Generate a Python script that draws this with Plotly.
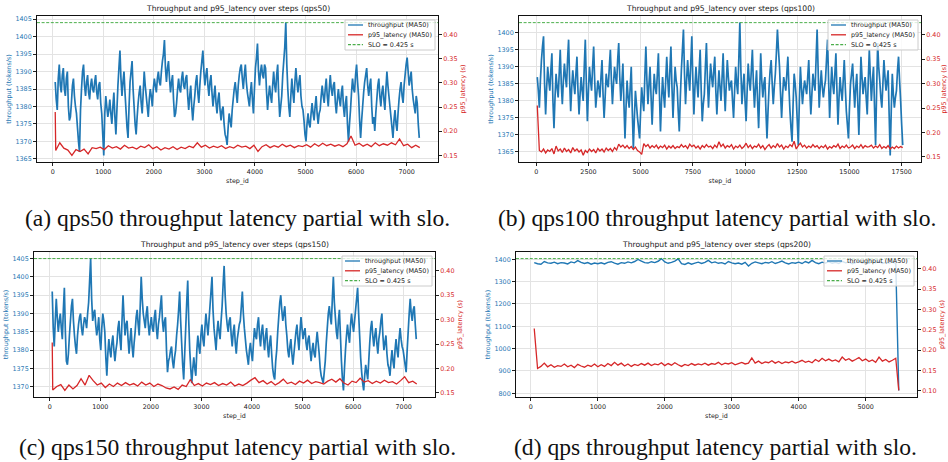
import plotly.graph_objects as go

# ---------------- data ----------------
SLO = 0.425
RUN_NAMES = ["qps50", "qps100", "qps150", "qps200"]
CAPTIONS = [
    "(a) qps50 throughput latency partial with slo.",
    "(b) qps100 throughput latency partial with slo.",
    "(c) qps150 throughput latency partial with slo.",
    "(d) qps throughput latency partial with slo.",
]
SERIES_NAMES = ["throughput (MA50)", "p95_latency (MA50)", f"SLO = {SLO} s"]

# panel (a) qps50
A_TP_STEPS = list(range(50, 7251, 20))
A_TP = [
    1387, 1382, 1379, 1388, 1392, 1386, 1384, 1389, 1391, 1385, 1383, 1388, 1390, 1380, 1376, 1377, 1381, 1386, 1388, 1383,
    1380, 1378, 1374, 1370, 1367, 1379, 1385, 1390, 1392, 1386, 1383, 1387, 1389, 1384, 1382, 1386, 1388, 1385, 1384, 1387,
    1389, 1384, 1382, 1386, 1387, 1381, 1378, 1372, 1366, 1378,
    1383, 1380, 1377, 1379, 1382, 1378, 1375, 1380, 1384, 1377, 1372, 1379, 1386, 1391, 1396, 1388, 1383, 1387, 1390, 1384,
    1379, 1374, 1371, 1380, 1387, 1390, 1393, 1385, 1380, 1375, 1372, 1377, 1381, 1384, 1386, 1381, 1378, 1384, 1390, 1386,
    1383, 1380, 1377, 1382, 1385, 1383, 1380, 1385, 1388, 1386,
    1384, 1388, 1390, 1387, 1386, 1390, 1393, 1395, 1399, 1391, 1387, 1391, 1393, 1388, 1384, 1387, 1389, 1382, 1377, 1378,
    1381, 1385, 1388, 1385, 1384, 1388, 1390, 1386, 1385, 1388, 1389, 1383, 1379, 1383, 1386, 1380, 1376, 1380, 1383, 1387,
    1389, 1384, 1381, 1386, 1390, 1393, 1396, 1390, 1386, 1389,
    1391, 1386, 1383, 1387, 1389, 1384, 1380, 1383, 1386, 1381, 1378, 1382, 1384, 1379, 1376, 1379, 1380, 1375, 1372, 1371,
    1369, 1374, 1378, 1376, 1374, 1379, 1382, 1385, 1387, 1384, 1381, 1386, 1389, 1391, 1392, 1388, 1385, 1389, 1392, 1387,
    1384, 1382, 1380, 1384, 1387, 1382, 1378, 1385, 1391, 1394,
    1398, 1390, 1386, 1390, 1392, 1389, 1388, 1392, 1391, 1384, 1379, 1383, 1386, 1383, 1381, 1386, 1390, 1386, 1384, 1389,
    1392, 1383, 1377, 1380, 1383, 1389, 1393, 1397, 1404, 1392, 1385, 1380, 1377, 1383, 1388, 1384, 1381, 1387, 1391, 1387,
    1384, 1387, 1389, 1383, 1380, 1379, 1376, 1372, 1370, 1375,
    1378, 1375, 1374, 1378, 1381, 1378, 1376, 1380, 1383, 1378, 1375, 1378, 1379, 1383, 1386, 1383, 1381, 1385, 1388, 1383,
    1380, 1385, 1389, 1385, 1383, 1386, 1387, 1381, 1378, 1382, 1385, 1382, 1380, 1384, 1386, 1380, 1377, 1381, 1383, 1375,
    1370, 1375, 1379, 1384, 1388, 1385, 1384, 1389, 1392, 1387,
    1383, 1376, 1371, 1376, 1380, 1384, 1387, 1389, 1391, 1386, 1383, 1386, 1388, 1380, 1375, 1377, 1373, 1378, 1382, 1386,
    1388, 1383, 1380, 1384, 1386, 1382, 1379, 1385, 1390, 1386, 1383, 1380, 1377, 1374, 1371, 1376, 1379, 1375, 1373, 1378,
    1382, 1385, 1387, 1383, 1381, 1386, 1389, 1392, 1394, 1390,
    1386, 1388, 1390, 1385, 1382, 1380, 1378, 1383, 1381, 1375, 1371,
]
A_LAT_STEPS = [50] + list(range(60, 7261, 80))
A_LAT = [
    0.240,
    0.160, 0.176, 0.165, 0.161, 0.150, 0.162, 0.158, 0.163, 0.153, 0.166,
    0.164, 0.167, 0.162, 0.170, 0.165, 0.168, 0.163, 0.171, 0.165, 0.167,
    0.163, 0.169, 0.166, 0.172, 0.164, 0.168, 0.161, 0.166, 0.163, 0.168,
    0.162, 0.167, 0.164, 0.169, 0.166, 0.176, 0.167, 0.171, 0.165, 0.169,
    0.166, 0.170, 0.164, 0.168, 0.165, 0.171, 0.167, 0.169, 0.164, 0.171,
    0.158, 0.168, 0.172, 0.166, 0.170, 0.167, 0.173, 0.168, 0.171, 0.166,
    0.170, 0.168, 0.172, 0.167, 0.174, 0.169, 0.175, 0.170, 0.173, 0.169,
    0.172, 0.168, 0.174, 0.190, 0.171, 0.175, 0.169, 0.173, 0.168, 0.176,
    0.170, 0.174, 0.171, 0.176, 0.172, 0.184, 0.170, 0.173, 0.166, 0.171,
    0.166,
]

# panel (b) qps100
B_TP_STEPS = list(range(50, 17551, 50))
B_TP = [
    1387, 1383, 1378, 1386, 1392, 1396, 1399, 1385, 1376, 1384, 1390, 1386, 1383, 1389, 1394, 1380, 1372, 1381, 1388, 1384,
    1381, 1388, 1395, 1385, 1379, 1386, 1391, 1387, 1384, 1392, 1398, 1386, 1377, 1384, 1389, 1385, 1382, 1388, 1393, 1383,
    1376, 1382, 1387, 1383, 1380, 1390, 1398, 1385, 1374, 1383, 1390, 1386, 1383, 1390, 1396, 1386, 1378, 1382, 1386, 1384,
    1381, 1387, 1392, 1382, 1375, 1381, 1388, 1385, 1384, 1390, 1395, 1386, 1379, 1385, 1390, 1387, 1385, 1392, 1397, 1387,
    1380, 1385, 1391, 1379, 1369, 1378, 1386, 1381, 1378, 1384, 1390, 1377, 1366, 1375, 1383, 1379, 1375, 1372, 1369, 1377,
    1384, 1380, 1377, 1387, 1396, 1386, 1379, 1385, 1390, 1381, 1373, 1381, 1388, 1384, 1382, 1388, 1394, 1382, 1371, 1380,
    1387, 1382, 1378, 1386, 1393, 1386, 1381, 1389, 1396, 1384, 1375, 1383, 1390, 1386, 1384, 1377, 1371, 1381, 1389, 1395,
    1401, 1388, 1379, 1386, 1392, 1387, 1383, 1391, 1399, 1386, 1376, 1384, 1390, 1385, 1381, 1389, 1395, 1383, 1374, 1379,
    1382, 1390, 1397, 1386, 1378, 1385, 1391, 1387, 1384, 1389, 1393, 1383, 1376, 1383, 1389, 1384, 1380, 1387, 1394, 1384,
    1377, 1385, 1392, 1387, 1383, 1385, 1386, 1380, 1375, 1383, 1390, 1385, 1382, 1392, 1403, 1389, 1379, 1384, 1388, 1380,
    1374, 1383, 1391, 1386, 1383, 1389, 1395, 1385, 1378, 1384, 1389, 1380, 1372, 1383, 1394, 1386, 1381, 1385, 1387, 1377,
    1369, 1377, 1384, 1389, 1392, 1385, 1379, 1384, 1388, 1394, 1401, 1395, 1390, 1382, 1375, 1382, 1387, 1385, 1383, 1388,
    1393, 1384, 1377, 1372, 1368, 1379, 1388, 1385, 1381, 1374, 1367, 1380, 1390, 1384, 1379, 1383, 1386, 1384, 1382, 1387,
    1392, 1383, 1376, 1382, 1388, 1385, 1383, 1392, 1401, 1389, 1378, 1384, 1389, 1384, 1381, 1384, 1386, 1392, 1398, 1386,
    1375, 1383, 1390, 1385, 1382, 1388, 1394, 1383, 1373, 1381, 1387, 1383, 1380, 1386, 1392, 1384, 1377, 1373, 1369, 1378,
    1385, 1388, 1391, 1384, 1378, 1384, 1388, 1379, 1370, 1382, 1393, 1387, 1382, 1385, 1387, 1381, 1376, 1386, 1395, 1387,
    1380, 1386, 1390, 1378, 1367, 1383, 1397, 1390, 1386, 1381, 1378, 1385, 1392, 1387, 1383, 1386, 1389, 1376, 1364, 1377,
    1388, 1382, 1378, 1381, 1383, 1389, 1393, 1386, 1380, 1373, 1367,
]
B_LAT_STEPS = list(range(50, 17551, 100))
B_LAT = [
    0.255, 0.163, 0.160, 0.166, 0.158, 0.164, 0.161, 0.167, 0.156, 0.172,
    0.162, 0.166, 0.159, 0.168, 0.161, 0.165, 0.158, 0.169, 0.162, 0.166,
    0.160, 0.164, 0.153, 0.163, 0.159, 0.166, 0.161, 0.165, 0.158, 0.167,
    0.162, 0.166, 0.160, 0.168, 0.163, 0.167, 0.161, 0.169, 0.164, 0.176,
    0.170, 0.174, 0.168, 0.173, 0.167, 0.171, 0.165, 0.170, 0.163, 0.160,
    0.155, 0.177, 0.171, 0.175, 0.168, 0.173, 0.169, 0.174, 0.167, 0.172,
    0.169, 0.174, 0.166, 0.172, 0.168, 0.173, 0.167, 0.171, 0.169, 0.175,
    0.170, 0.173, 0.167, 0.176, 0.171, 0.174, 0.168, 0.172, 0.166, 0.173,
    0.169, 0.175, 0.170, 0.172, 0.167, 0.174, 0.169, 0.181, 0.171, 0.176,
    0.168, 0.173, 0.170, 0.175, 0.166, 0.172, 0.169, 0.174, 0.167, 0.171,
    0.178, 0.169, 0.174, 0.167, 0.172, 0.170, 0.176, 0.168, 0.173, 0.165,
    0.171, 0.175, 0.168, 0.173, 0.169, 0.177, 0.170, 0.174, 0.166, 0.172,
    0.169, 0.175, 0.171, 0.182, 0.166, 0.173, 0.178, 0.170, 0.174, 0.168,
    0.172, 0.169, 0.175, 0.170, 0.173, 0.167, 0.172, 0.169, 0.174, 0.166,
    0.171, 0.168, 0.173, 0.170, 0.176, 0.167, 0.172, 0.169, 0.174, 0.168,
    0.170, 0.174, 0.167, 0.172, 0.169, 0.175, 0.168, 0.173, 0.170, 0.171,
    0.174, 0.168, 0.172, 0.169, 0.175, 0.167, 0.171, 0.168, 0.173, 0.166,
    0.170, 0.167, 0.172, 0.168, 0.171, 0.169,
]

# panel (c) qps150
C_TP_STEPS = list(range(50, 7251, 20))
C_TP = [
    1396, 1386, 1381, 1388, 1394, 1389, 1385, 1388, 1390, 1386, 1383, 1391, 1397, 1385, 1377, 1376, 1379, 1384, 1388, 1392,
    1394, 1388, 1384, 1381, 1379, 1384, 1387, 1389, 1390, 1386, 1384, 1387, 1389, 1388, 1386, 1390, 1393, 1399, 1405, 1394,
    1388, 1390, 1391, 1387, 1384, 1386, 1389, 1383, 1380, 1386,
    1390, 1388, 1385, 1378, 1373, 1379, 1383, 1380, 1378, 1382, 1384, 1380, 1377, 1380, 1382, 1386, 1388, 1383, 1380, 1388,
    1395, 1389, 1384, 1387, 1388, 1383, 1379, 1383, 1386, 1381, 1378, 1382, 1385, 1389, 1391, 1387, 1384, 1392, 1400, 1394,
    1390, 1388, 1386, 1390, 1392, 1387, 1384, 1387, 1389, 1386,
    1385, 1389, 1391, 1386, 1383, 1387, 1389, 1392, 1395, 1388, 1385, 1388, 1389, 1380, 1374, 1377, 1378, 1380, 1381, 1377,
    1375, 1378, 1380, 1384, 1387, 1391, 1396, 1388, 1382, 1376, 1372, 1379, 1386, 1393, 1399, 1388, 1380, 1375, 1371, 1375,
    1378, 1375, 1373, 1380, 1384, 1381, 1379, 1384, 1387, 1383,
    1381, 1386, 1390, 1387, 1384, 1388, 1392, 1396, 1400, 1391, 1386, 1383, 1380, 1385, 1388, 1385, 1383, 1388, 1392, 1398,
    1403, 1395, 1390, 1387, 1385, 1388, 1389, 1384, 1381, 1385, 1387, 1382, 1379, 1383, 1385, 1387, 1388, 1392, 1396, 1390,
    1386, 1383, 1380, 1378, 1376, 1380, 1382, 1379, 1377, 1382,
    1386, 1384, 1383, 1387, 1389, 1384, 1381, 1385, 1387, 1383, 1380, 1384, 1386, 1381, 1378, 1382, 1384, 1379, 1375, 1373,
    1372, 1377, 1380, 1385, 1389, 1393, 1395, 1391, 1388, 1390, 1392, 1387, 1384, 1380, 1378, 1381, 1383, 1379, 1376, 1379,
    1382, 1385, 1387, 1383, 1380, 1385, 1389, 1386, 1383, 1385,
    1386, 1382, 1380, 1383, 1384, 1380, 1377, 1380, 1382, 1379, 1378, 1382, 1385, 1382, 1379, 1375, 1373, 1372, 1371, 1374,
    1377, 1382, 1386, 1390, 1392, 1389, 1387, 1394, 1400, 1393, 1389, 1385, 1383, 1388, 1391, 1384, 1377, 1372, 1369, 1375,
    1380, 1384, 1387, 1384, 1382, 1387, 1390, 1387, 1385, 1388,
    1391, 1394, 1397, 1390, 1384, 1378, 1374, 1371, 1369, 1373, 1376, 1374, 1372, 1377, 1382, 1386, 1388, 1384, 1381, 1384,
    1386, 1382, 1379, 1383, 1385, 1388, 1390, 1384, 1380, 1382, 1384, 1379, 1376, 1375, 1373, 1377, 1380, 1377, 1375, 1380,
    1383, 1380, 1378, 1383, 1386, 1383, 1381, 1380, 1378, 1376,
    1374, 1380, 1385, 1390, 1394, 1390, 1388, 1391, 1392, 1387, 1383,
]
C_LAT_STEPS = [50] + list(range(60, 7261, 80))
C_LAT = [
    0.253,
    0.156, 0.163, 0.167, 0.155, 0.166, 0.158, 0.165, 0.179, 0.166, 0.186,
    0.175, 0.166, 0.170, 0.161, 0.168, 0.163, 0.170, 0.165, 0.171, 0.166,
    0.169, 0.164, 0.172, 0.166, 0.170, 0.163, 0.168, 0.165, 0.160, 0.158,
    0.162, 0.157, 0.166, 0.163, 0.177, 0.165, 0.169, 0.164, 0.170, 0.167,
    0.171, 0.165, 0.169, 0.166, 0.172, 0.164, 0.168, 0.165, 0.170, 0.176,
    0.181, 0.171, 0.175, 0.168, 0.173, 0.166, 0.171, 0.178, 0.169, 0.172,
    0.167, 0.174, 0.170, 0.176, 0.169, 0.173, 0.171, 0.168, 0.174, 0.178,
    0.172, 0.179, 0.170, 0.166, 0.174, 0.171, 0.180, 0.172, 0.175, 0.169,
    0.174, 0.170, 0.176, 0.171, 0.173, 0.168, 0.175, 0.183, 0.171, 0.174,
    0.168,
]

# panel (d) qps200
D_STEPS = list(range(50, 5451, 50)) + [5495]
D_TP = [
    1385, 1380, 1378, 1390, 1384, 1382, 1387, 1380, 1385, 1383,
    1379, 1388, 1384, 1394, 1386, 1381, 1385, 1378, 1383, 1380,
    1384, 1379, 1386, 1389, 1383, 1378, 1385, 1382, 1388, 1384,
    1390, 1399, 1392, 1385, 1383, 1389, 1385, 1391, 1403, 1388,
    1382, 1386, 1392, 1402, 1380, 1377, 1384, 1378, 1383, 1387,
    1381, 1386, 1395, 1384, 1388, 1382, 1385, 1379, 1390, 1384,
    1380, 1383, 1378, 1386, 1370, 1382, 1388, 1384, 1380, 1386,
    1383, 1389, 1381, 1386, 1392, 1384, 1379, 1385, 1382, 1387,
    1381, 1390, 1384, 1395, 1385, 1380, 1387, 1383, 1389, 1382,
    1386, 1381, 1391, 1384, 1388, 1380, 1385, 1390, 1383, 1387,
    1382, 1388, 1384, 1390, 1381, 1386, 1383, 1388, 1382,
    813,
]
D_LAT = [
    0.253, 0.155, 0.160, 0.168, 0.159, 0.164, 0.158, 0.162, 0.160, 0.166,
    0.159, 0.163, 0.157, 0.165, 0.161, 0.158, 0.163, 0.160, 0.166, 0.159,
    0.164, 0.160, 0.167, 0.162, 0.170, 0.163, 0.168, 0.161, 0.166, 0.160,
    0.165, 0.162, 0.167, 0.163, 0.168, 0.162, 0.166, 0.164, 0.169, 0.162,
    0.167, 0.163, 0.169, 0.164, 0.160, 0.165, 0.162, 0.167, 0.163, 0.166,
    0.164, 0.168, 0.163, 0.167, 0.165, 0.170, 0.164, 0.168, 0.166, 0.169,
    0.164, 0.167, 0.170, 0.166, 0.168, 0.181, 0.168, 0.173, 0.167, 0.171,
    0.169, 0.174, 0.168, 0.172, 0.167, 0.171, 0.169, 0.173, 0.168, 0.171,
    0.175, 0.170, 0.173, 0.169, 0.177, 0.172, 0.180, 0.174, 0.178, 0.173,
    0.176, 0.171, 0.183, 0.175, 0.179, 0.173, 0.177, 0.182, 0.174, 0.178,
    0.172, 0.176, 0.170, 0.183, 0.173, 0.177, 0.171, 0.175, 0.180,
    0.101,
]

X_TICK_STEP = [1000, 2500, 1000, 1000]
Y_TICK_STEP = [5, 5, 5, 100]

# ---------------- styling / layout ----------------
FIG_W, FIG_H = 948, 462
BLUE = "#1f77b4"
RED = "#d62728"
GREEN = "rgba(44,160,44,0.85)"
SLO_DASH = "3px,1.6px"
FONT = "DejaVu Sans"
SMALL = 6.4
# plot rectangles in pixels: left, top, right, bottom
BOXES = [(37, 16, 438, 162), (519, 16, 921, 162), (34, 252, 435, 397), (516, 252, 917, 397)]
CAP_POS = [(237, 218), (717, 218), (237, 447), (715, 447)]
LEG_W, LEG_H = 90, 30
TP_WIDTH = [1.7, 1.7, 1.7, 1.4]

panels = [
    (A_TP_STEPS, A_TP, A_LAT_STEPS, A_LAT),
    (B_TP_STEPS, B_TP, B_LAT_STEPS, B_LAT),
    (C_TP_STEPS, C_TP, C_LAT_STEPS, C_LAT),
    (D_STEPS, D_TP, D_STEPS, D_LAT),
]
for tx, ty, lx, ly in panels:
    assert len(tx) == len(ty), (len(tx), len(ty))
    assert len(lx) == len(ly), (len(lx), len(ly))


def pad(lo, hi):
    d = (hi - lo) * 0.05
    return [lo - d, hi + d]


def px(x):
    return x / FIG_W


def py(y):
    return 1 - y / FIG_H


fig = go.Figure()
layout = dict(
    width=FIG_W, height=FIG_H, margin=dict(l=0, r=0, t=0, b=0),
    paper_bgcolor="white", plot_bgcolor="white", template="none",
    font=dict(family=FONT, size=SMALL, color="#222"),
    showlegend=False,
)
annotations = []
shapes = []
line_colors = [BLUE, RED, GREEN]
line_dash = ["solid", "solid", SLO_DASH]

for i, (tx, ty, lx, ly) in enumerate(panels, start=1):
    xl, yt, xr, yb = BOXES[i - 1]
    xdom = [px(xl), px(xr)]
    ydom = [py(yb), py(yt)]
    xid = "x" if i == 1 else f"x{i}"
    ylid = "y" if i == 1 else f"y{2 * i - 1}"
    yrid = f"y{2 * i}"

    x_range = pad(min(tx + lx), max(tx + lx))
    yl_range = pad(min(ty), max(ty))
    yr_range = pad(min(ly + [SLO]), max(ly + [SLO]))

    fig.add_trace(go.Scatter(x=tx, y=ty, mode="lines", name=SERIES_NAMES[0],
                             line=dict(color=BLUE, width=TP_WIDTH[i - 1], simplify=False),
                             xaxis=xid, yaxis=ylid))
    fig.add_trace(go.Scatter(x=lx, y=ly, mode="lines", name=SERIES_NAMES[1],
                             line=dict(color=RED, width=1.3, simplify=False), xaxis=xid, yaxis=yrid))
    fig.add_trace(go.Scatter(x=x_range, y=[SLO, SLO], mode="lines", name=SERIES_NAMES[2],
                             line=dict(color=GREEN, width=1, dash=SLO_DASH), xaxis=xid, yaxis=yrid))

    xkey = "xaxis" if i == 1 else f"xaxis{i}"
    ylkey = "yaxis" if i == 1 else f"yaxis{2 * i - 1}"
    yrkey = f"yaxis{2 * i}"
    axis_common = dict(showline=True, linecolor="#111", linewidth=1, ticks="outside",
                       ticklen=3, tickwidth=0.8, tickcolor="#222", zeroline=False)
    layout[xkey] = dict(domain=xdom, anchor=ylid, range=x_range, tick0=0, dtick=X_TICK_STEP[i - 1],
                        tickformat="d", showgrid=True, gridcolor="#e3e3e3", gridwidth=1, mirror=True,
                        tickfont=dict(size=SMALL, color="#222"),
                        title=dict(text="step_id", font=dict(size=SMALL, color="#222"), standoff=3),
                        **axis_common)
    layout[ylkey] = dict(domain=ydom, anchor=xid, range=yl_range, tick0=0, dtick=Y_TICK_STEP[i - 1],
                         tickformat="d", showgrid=True, gridcolor="#e3e3e3", gridwidth=1, mirror=True,
                         tickfont=dict(size=SMALL, color=BLUE),
                         title=dict(text="throughput (tokens/s)", font=dict(size=SMALL, color=BLUE), standoff=3),
                         **axis_common)
    layout[yrkey] = dict(overlaying=ylid, anchor=xid, side="right", range=yr_range, tick0=0, dtick=0.05,
                         tickformat=".2f", showgrid=False,
                         tickfont=dict(size=SMALL, color=RED),
                         title=dict(text="p95_latency (s)", font=dict(size=SMALL, color=RED), standoff=4),
                         **axis_common)

    # matplotlib-style legend box (upper right)
    lb_r = xr - 3
    lb_l = lb_r - LEG_W
    lb_t = yt + 4
    lb_b = lb_t + LEG_H
    shapes.append(dict(type="rect", xref="paper", yref="paper", x0=px(lb_l), x1=px(lb_r), y0=py(lb_b), y1=py(lb_t),
                       fillcolor="rgba(255,255,255,0.8)", line=dict(color="#cccccc", width=1), layer="above"))
    for k in range(3):
        ey = lb_t + 5 + k * 9.8
        shapes.append(dict(type="line", xref="paper", yref="paper", x0=px(lb_l + 3), x1=px(lb_l + 18),
                           y0=py(ey), y1=py(ey), layer="above",
                           line=dict(color=line_colors[k], width=1.3, dash=line_dash[k])))
        annotations.append(dict(text=SERIES_NAMES[k], x=px(lb_l + 21), y=py(ey), xref="paper", yref="paper",
                                xanchor="left", yanchor="middle", showarrow=False,
                                font=dict(family=FONT, size=SMALL, color="#222")))

    annotations.append(dict(text=f"Throughput and p95_latency over steps ({RUN_NAMES[i - 1]})",
                            x=(xdom[0] + xdom[1]) / 2, y=ydom[1], xref="paper", yref="paper",
                            xanchor="center", yanchor="bottom", yshift=1, showarrow=False,
                            font=dict(family=FONT, size=7.6, color="#222")))
    cx, cy = CAP_POS[i - 1]
    annotations.append(dict(text=CAPTIONS[i - 1], x=px(cx), y=py(cy), xref="paper", yref="paper",
                            xanchor="center", yanchor="middle", showarrow=False,
                            font=dict(family="Liberation Serif", size=23.6, color="#111")))

layout["annotations"] = annotations
layout["shapes"] = shapes
fig.update_layout(**layout)
fig.write_html("out.html", config={"displayModeBar": False},
               post_script="document.body.style.margin='0';")
